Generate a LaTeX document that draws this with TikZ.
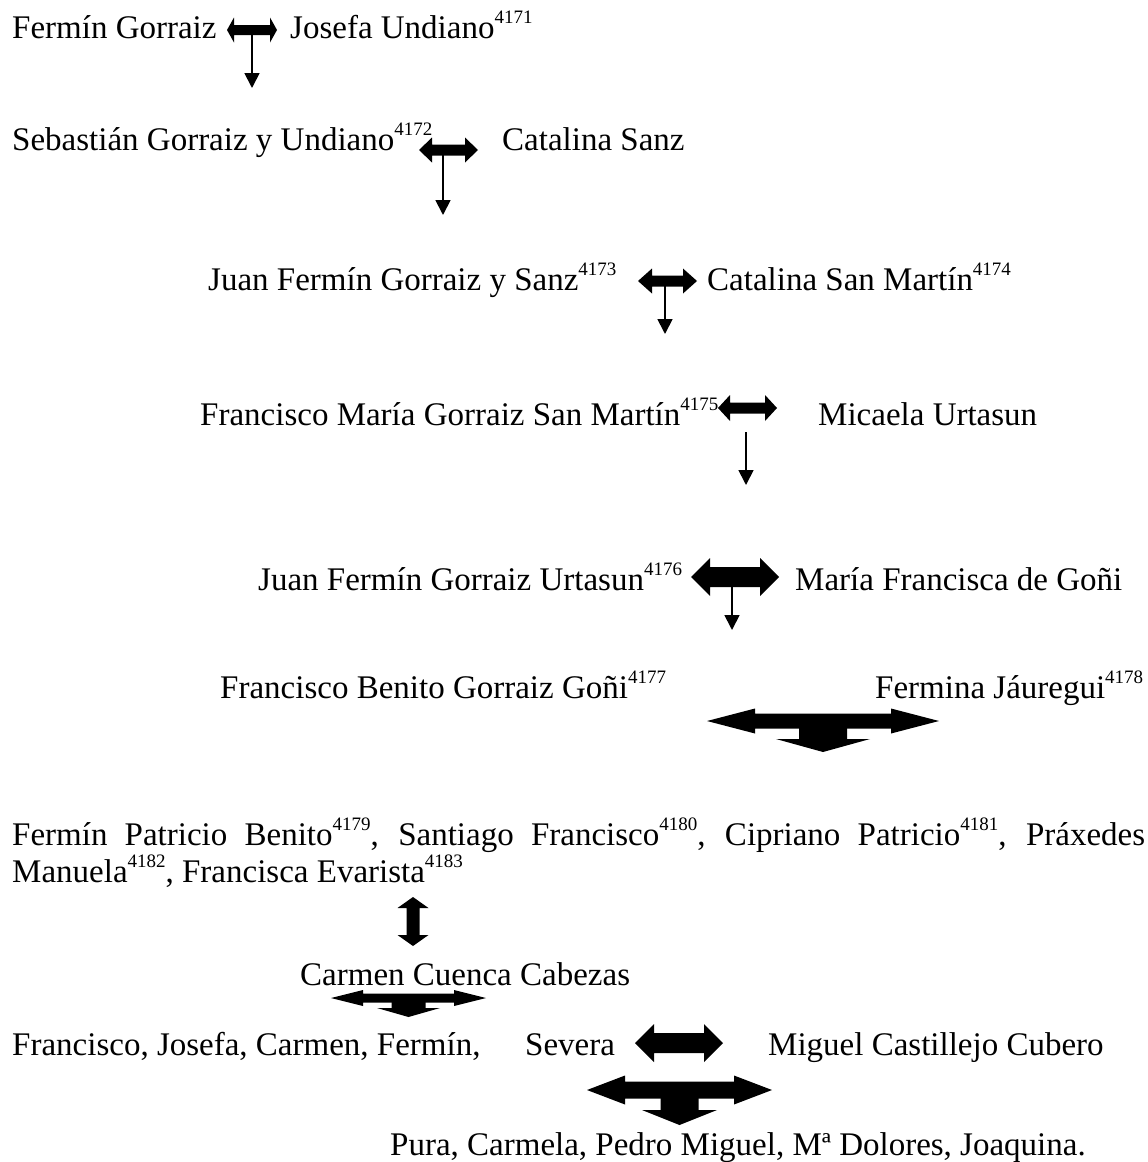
\documentclass[tikz,border=0pt]{standalone}
\usepackage{fontspec}
\setmainfont{Liberation Serif}
\usetikzlibrary{arrows.meta,calc}

% superindex de nota
\newcommand\nota[1]{\raisebox{15pt}{\fontsize{19}{19}\selectfont #1}}
% fletxa doble: centre, mitja llargada, mig gruix, mitja alcada cap, llargada cap
\newcommand\parella[5]{%
  \fill[shift={(#1)}] (-#2,0) -- (-#2+#5,-#4) -- (-#2+#5,-#3) -- (#2-#5,-#3) -- (#2-#5,-#4)
    -- (#2,0) -- (#2-#5,#4) -- (#2-#5,#3) -- (-#2+#5,#3) -- (-#2+#5,#4) -- cycle;}
% fletxa cap avall: centre, mig gruix, mitja amplada cap, inici cap, punta
\newcommand\fills[5]{%
  \fill[shift={(#1)}] (-#2,0) -- (#2,0) -- (#2,#4) -- (#3,#4) -- (0,#5) -- (-#3,#4)
    -- (-#2,#4) -- cycle;}

\tikzset{
  persona/.style={anchor=base west, inner sep=0pt, font=\fontsize{33}{38}\selectfont},
  descendencia/.style={line width=1.8pt, -{Triangle[length=15pt,width=15pt]}},
}

\begin{document}
\begin{tikzpicture}[x=1pt, y=-1pt]
\useasboundingbox (0,0) rectangle (1148,1162);

% Noms
\node[persona] (fermin) at (12,38) {Fermín Gorraiz};
\node[persona] (josefa) at (290,38) {Josefa Undiano\nota{4171}};
\node[persona] (sebastian) at (12,150) {Sebastián Gorraiz y Undiano\nota{4172}};
\node[persona] (catalina) at (502,150) {Catalina Sanz};
\node[persona] (juan) at (208,290) {Juan Fermín Gorraiz y Sanz\nota{4173}};
\node[persona] (catalinasm) at (707,290) {Catalina San Martín\nota{4174}};
\node[persona] (franciscom) at (200,425) {Francisco María Gorraiz San Martín\nota{4175}};
\node[persona] (micaela) at (818,425) {Micaela Urtasun};
\node[persona] (juanu) at (258,590) {Juan Fermín Gorraiz Urtasun\nota{4176}};
\node[persona] (mariaf) at (795,590) {María Francisca de Goñi};
\node[persona] (franciscob) at (220,698) {Francisco Benito Gorraiz Goñi\nota{4177}};
\node[persona] (fermina) at (875,698) {Fermina Jáuregui\nota{4178}};
\node[persona] (fills) at (12,845) {\makebox[1133pt][s]{Fermín Patricio Benito\nota{4179}, Santiago Francisco\nota{4180}, Cipriano Patricio\nota{4181}, Práxedes}};
\node[persona] (fillsb) at (12,882) {Manuela\nota{4182}, Francisca Evarista\nota{4183}};
\node[persona] (carmen) at (300,985) {Carmen Cuenca Cabezas};
\node[persona] (germans) at (12,1055) {Francisco, Josefa, Carmen, Fermín,};
\node[persona] (severa) at (525,1055) {Severa};
\node[persona] (miguel) at (768,1055) {Miguel Castillejo Cubero};
\node[persona] (nets) at (390,1155) {Pura, Carmela, Pedro Miguel, Mª Dolores, Joaquina.};

% Centres de les fletxes
\coordinate (m1) at (252,30);
\coordinate (m2) at (448.5,150);
\coordinate (m3) at (667.5,281);
\coordinate (m4) at (747.5,408);
\coordinate (m5) at (735,577);
\coordinate (m6) at (823,721);
\coordinate (m7) at (413,921.5);
\coordinate (m8) at (408.5,998);
\coordinate (m9) at (679,1043);
\coordinate (m10) at (679.5,1090);

% Matrimonis
\parella{m1}{25}{5}{12.5}{7}
\parella{m2}{29.5}{5.5}{12.5}{13}
\parella{m3}{29.5}{5.5}{12.5}{14}
\parella{m4}{29.5}{5.5}{13}{12}
\parella{m5}{44}{10}{19}{19}
\parella{m6}{116}{7.5}{12.5}{48}
\begin{scope}[shift={(m7)}, rotate=90]
  \parella{0,0}{24.5}{6.5}{15.5}{11}
\end{scope}
\parella{m8}{77.5}{4.5}{8}{32}
\parella{m9}{44}{10}{19}{19}
\parella{m10}{92.5}{8.5}{14.5}{38}

% Fills
\draw[descendencia] (m1) -- ++(0,58);
\draw[descendencia] ($(m2)+(-5.5,5)$) -- ++(0,60);
\draw[descendencia] ($(m3)+(-2.5,5)$) -- ++(0,48);
\draw[descendencia] ($(m4)+(-1.5,24)$) -- ++(0,53);
\draw[descendencia] ($(m5)+(-3,8)$) -- ++(0,45);
\fills{m6}{24}{47}{18}{31}
\fills{m8}{17}{31.5}{10}{19}
\fills{m10}{19}{37.5}{20}{35}

\end{tikzpicture}
\end{document}
